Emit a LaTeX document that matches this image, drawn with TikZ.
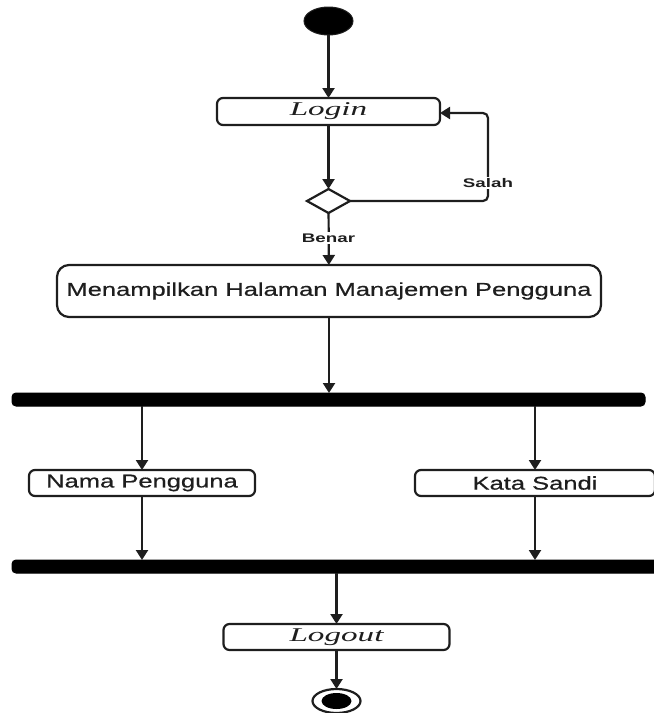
\documentclass[tikz,border=0pt]{standalone}
\usepackage{fontspec}
\usetikzlibrary{shapes.geometric,arrows.meta,calc}
\newfontfamily\uisans[FakeStretch=1.38,FakeBold=0.6]{Liberation Sans}
\newfontfamily\uilabel[FakeStretch=1.5]{Liberation Sans}
\newfontfamily\uiserif[FakeStretch=1.7]{Liberation Serif}
\definecolor{ink}{HTML}{1E1E1E}
\begin{document}
\begin{tikzpicture}[x=1pt,y=-1pt,
  every node/.style={inner sep=0pt, outer sep=0pt},
  line/.style={draw=ink, line width=2.2pt},
  arr/.style={line, -{Triangle[width=12pt,length=10pt]}},
  act/.style={draw=ink, line width=2.2pt, rounded corners=6pt, fill=white, text=ink,
     font=\uisans\fontsize{18.5}{21}\selectfont},
  actit/.style={act, font=\uiserif\itshape\fontsize{19.5}{21}\selectfont},
  bar/.style={fill=black, draw=black, line width=1pt, rounded corners=4pt},
  lbl/.style={fill=white, text=ink, inner sep=1.5pt, font=\uilabel\bfseries\fontsize{12.5}{14}\selectfont}
]
\useasboundingbox (0,0) rectangle (654,713);
% start
\node[ellipse, fill=black, draw=ink, line width=1pt, minimum width=49pt, minimum height=28pt] (start) at (328.5,21) {};
% login
\node[actit, minimum width=223pt, minimum height=27pt] (login) at (328.5,111.5) {Login};
% decision
\node[diamond, draw=ink, line width=2.2pt, fill=white, minimum width=43pt, minimum height=24pt] (dec) at (328.5,201) {};
% menu
\node[act, rounded corners=12pt, minimum width=544pt, minimum height=52pt] (menu) at (329,291) {Menampilkan Halaman Manajemen Pengguna};
% fork 1
\node[bar, minimum width=633pt, minimum height=13pt] (fork1) at (328.5,399.5) {};
% parallel actions
\node[act, minimum width=226pt, minimum height=26pt] (nama) at (142,483) {Nama Pengguna};
\node[act, minimum width=240pt, minimum height=26pt] (kata) at (535,483) {Kata Sandi};
% fork 2
\node[bar, minimum width=656pt, minimum height=13pt] (fork2) at (340,566.5) {};
% logout
\node[actit, minimum width=226pt, minimum height=26pt] (logout) at (336.5,637) {Logout};
% end
\node[ellipse, draw=ink, line width=2.2pt, fill=white, minimum width=48pt, minimum height=24pt] (end) at (336.5,701) {};
\node[ellipse, fill=black, minimum width=30pt, minimum height=16pt] (endin) at (end.center) {};

% connectors
\draw[arr] (start) -- (login);
\draw[arr] (login) -- (dec);
\draw[arr, rounded corners=5pt] (dec.east) -- (488,201) -- (488,113) -- (login.east |- 0,113);
\node[lbl] (salah) at (488,183) {Salah};
\draw[arr] (dec) -- (menu);
\node[lbl] (benar) at (328.5,238) {Benar};
\draw[arr] (menu) -- (menu.south |- fork1.north);
\draw[arr] (nama.north |- fork1.south) -- (nama.north);
\draw[arr] (kata.north |- fork1.south) -- (kata.north);
\draw[arr] (nama) -- (nama.south |- fork2.north);
\draw[arr] (kata) -- (kata.south |- fork2.north);
\draw[arr] (logout.north |- fork2.south) -- (logout.north);
\draw[arr] (logout) -- (end);
\end{tikzpicture}
\end{document}
